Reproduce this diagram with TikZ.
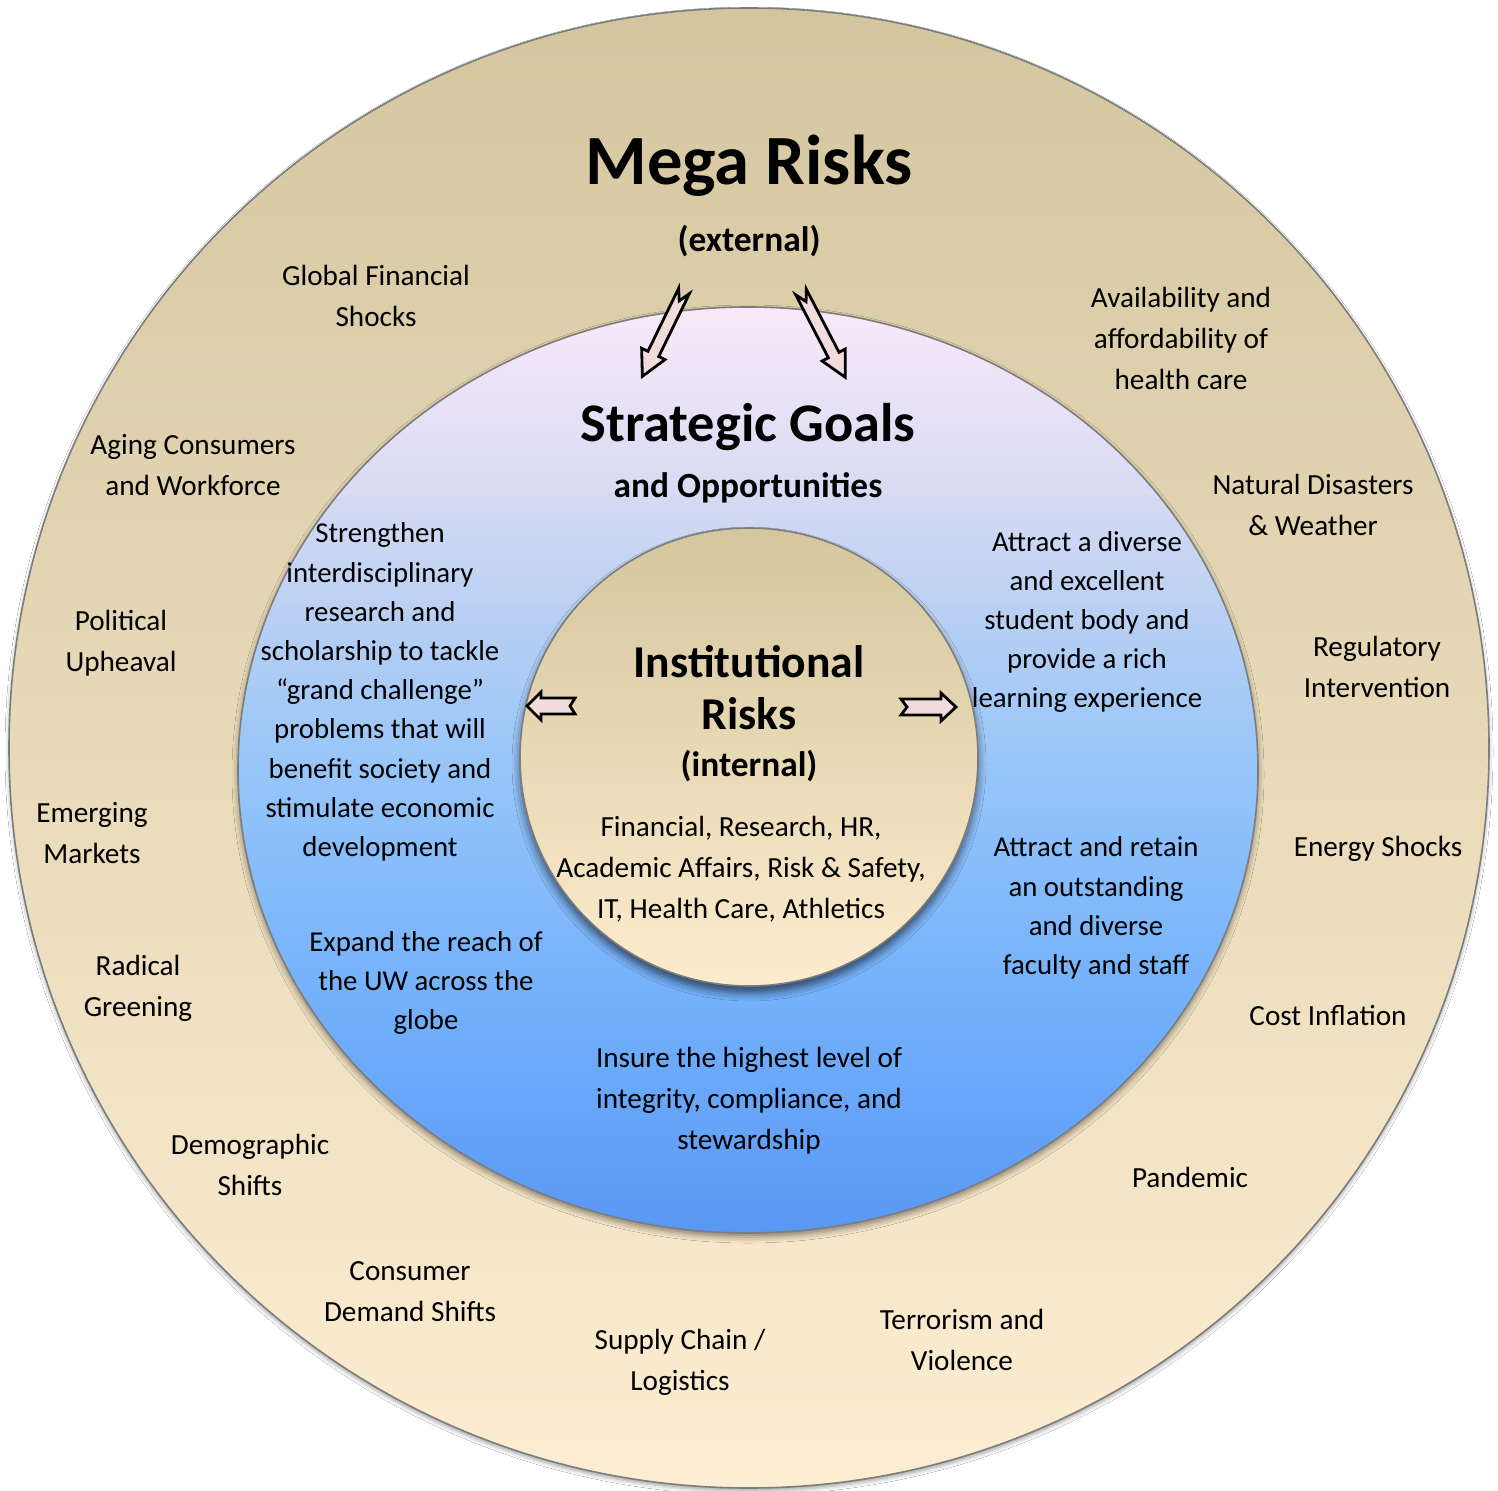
\documentclass[tikz,border=0pt]{standalone}
\usepackage{fontspec}
\setmainfont{Carlito}
\usetikzlibrary{shadows.blur}

\definecolor{outerTop}{RGB}{211,198,159}
\definecolor{outerBot}{RGB}{253,237,210}
\definecolor{ringTop}{RGB}{249,233,250}
\definecolor{ringA}{RGB}{218,220,243}
\definecolor{ringB}{RGB}{183,207,243}
\definecolor{ringMid}{RGB}{150,197,249}
\definecolor{ringC}{RGB}{115,177,251}
\definecolor{ringBot}{RGB}{88,152,245}
\definecolor{coreTop}{RGB}{212,198,158}
\definecolor{coreBot}{RGB}{253,236,206}
\definecolor{arrowFill}{RGB}{242,220,219}
\definecolor{rimGray}{RGB}{125,125,125}

% vertical blend of the strategic ring, bottom (25bp) to top (75bp)
\pgfdeclareverticalshading{ringblend}{100bp}{%
  color(0bp)=(ringBot); color(25bp)=(ringBot); color(37.6bp)=(ringC);
  color(50bp)=(ringMid); color(58.1bp)=(ringB); color(65.7bp)=(ringA);
  color(75bp)=(ringTop); color(100bp)=(ringTop)}

\tikzset{
  rim/.style={draw=rimGray, line width=0.8pt},
  outerlabel/.style={font=\fontsize{14.6}{20.5}\selectfont, align=center, inner sep=0pt},
  goallabel/.style={font=\fontsize{14.4}{19.6}\selectfont, align=center, inner sep=0pt},
  megatitle/.style={font=\bfseries\fontsize{35.3}{40}\selectfont, inner sep=0pt},
  ringtitle/.style={font=\bfseries\fontsize{27.2}{32}\selectfont, inner sep=0pt},
  coretitle/.style={font=\bfseries\fontsize{22.8}{26}\selectfont, inner sep=0pt},
  subtitle/.style={font=\bfseries\fontsize{17.7}{21}\selectfont, inner sep=0pt},
  arrowline/.style={draw=black, fill=arrowFill, line width=1.4pt, line join=miter},
  % notched block arrow along local +x:
  % #1 length, #2 shaft half-width, #3 head half-width, #4 head length, #5 notch depth
  pics/notched/.style n args={5}{code={%
    \draw[arrowline] (0,#2) -- (#1-#4,#2) -- (#1-#4,#3) -- (#1,0)
      -- (#1-#4,-#3) -- (#1-#4,-#2) -- (0,-#2) -- (#5,0) -- cycle;
  }}
}

\begin{document}
\begin{tikzpicture}[x=0.5pt,y=-0.5pt]
  \useasboundingbox (0,0) rectangle (1498,1491);
  \fill[white] (0,0) rectangle (1498,1491);

  % three nested zones
  \shade[rim, top color=outerTop, bottom color=outerBot,
         blur shadow={shadow xshift=0pt, shadow yshift=-1.5pt, shadow blur radius=2pt, shadow opacity=35}]
    (749,748) circle[radius=740];
  \shade[rim, shading=ringblend,
         blur shadow={shadow xshift=0pt, shadow yshift=-2pt, shadow blur radius=3pt, shadow opacity=45}]
    (748,770) ellipse[x radius=510, y radius=463];
  \shade[rim, top color=coreTop, bottom color=coreBot,
         blur shadow={shadow xshift=0pt, shadow yshift=-3.5pt, shadow blur radius=4pt, shadow opacity=60}]
    (749,757) circle[radius=229];

  % block arrows
  \pic[rotate=-116] at (684,291) {notched={95}{6}{13}{25}{11}};
  \pic[rotate=-62.6] at (801,292) {notched={96}{6}{13}{25}{11}};
  \pic[rotate=180] at (575,706) {notched={48}{8}{14}{14}{5}};
  \pic at (901,707) {notched={55}{8}{14}{15}{6}};

  % titles
  \node[megatitle, anchor=base] (mega) at (749,185) {Mega Risks};
  \node[subtitle, anchor=base] (external) at (749,252) {(external)};
  \node[ringtitle, anchor=base] (strategic) at (748,442) {Strategic Goals};
  \node[subtitle, anchor=base] (opps) at (748,498) {and Opportunities};
  \node[coretitle, anchor=base] (inst) at (749,677) {Institutional};
  \node[coretitle, anchor=base] (risks) at (749,729) {Risks};
  \node[subtitle, anchor=base] (internal) at (749,776) {(internal)};

  % internal risk areas
  \node[outerlabel] (areas) at (741,869)
    {Financial, Research, HR,\\Academic Affairs, Risk \& Safety,\\IT, Health Care, Athletics};

  % strategic goals
  \node[goallabel] (goalResearch) at (380,692)
    {Strengthen\\interdisciplinary\\research and\\scholarship to tackle\\“grand challenge”\\problems that will\\benefit society and\\stimulate economic\\development};
  \node[goallabel] (goalStudents) at (1087,622)
    {Attract a diverse\\and excellent\\student body and\\provide a rich\\learning experience};
  \node[goallabel] (goalFaculty) at (1096,908)
    {Attract and retain\\an outstanding\\and diverse\\faculty and staff};
  \node[goallabel] (goalReach) at (426,983)
    {Expand the reach of\\the UW across the\\globe};
  \node[outerlabel] (goalIntegrity) at (749,1101)
    {Insure the highest level of\\integrity, compliance, and\\stewardship};

  % external mega risks
  \node[outerlabel] (rFinance) at (376,296) {Global Financial\\Shocks};
  \node[outerlabel] (rAging) at (193,465) {Aging Consumers\\and Workforce};
  \node[outerlabel] (rPolitical) at (121,643) {Political\\Upheaval};
  \node[outerlabel] (rMarkets) at (92,833) {Emerging\\Markets};
  \node[outerlabel] (rGreening) at (138,988) {Radical\\Greening};
  \node[outerlabel] (rDemo) at (250,1165) {Demographic\\Shifts};
  \node[outerlabel] (rDemand) at (410,1292) {Consumer\\Demand Shifts};
  \node[outerlabel] (rSupply) at (680,1362) {Supply Chain /\\Logistics};
  \node[outerlabel] (rTerror) at (962,1340) {Terrorism and\\Violence};
  \node[outerlabel] (rPandemic) at (1190,1177) {Pandemic};
  \node[outerlabel] (rCost) at (1328,1016) {Cost Inflation};
  \node[outerlabel] (rEnergy) at (1378,849) {Energy Shocks};
  \node[outerlabel] (rRegulatory) at (1377,667) {Regulatory\\Intervention};
  \node[outerlabel] (rNatural) at (1313,505) {Natural Disasters\\\& Weather};
  \node[outerlabel] (rHealth) at (1181,338) {Availability and\\affordability of\\health care};
\end{tikzpicture}
\end{document}
